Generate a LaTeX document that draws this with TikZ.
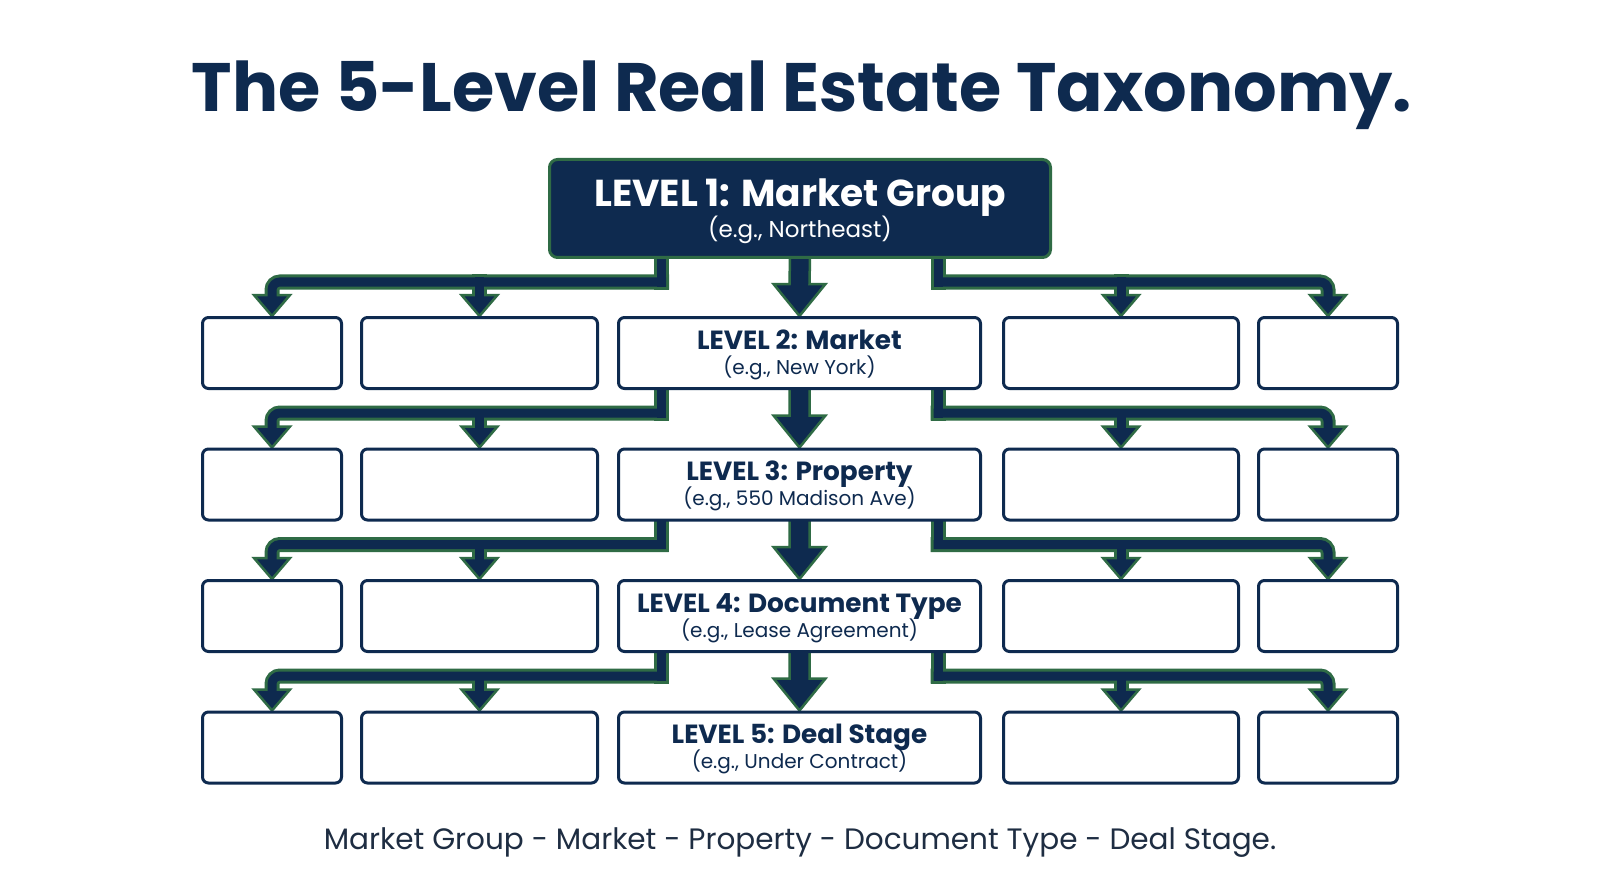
\documentclass[tikz,border=0pt]{standalone}
\usepackage{fontspec}
\setmainfont{Poppins}
\usetikzlibrary{calc}
\definecolor{navy}{HTML}{0E2A4F}
\definecolor{grn}{HTML}{2F6B45}
\definecolor{foot}{HTML}{1E2D42}
\pgfdeclarelayer{back}
\pgfdeclarelayer{conn}
\pgfsetlayers{back,conn,main}
\tikzset{
  lvbox/.style={draw=navy, line width=3pt, rounded corners=6pt, fill=white,
    minimum width=#1, minimum height=71pt, inner sep=0pt},
  topbox/.style={draw=grn, line width=3pt, rounded corners=8pt, fill=navy,
    minimum width=501pt, minimum height=98pt, inner sep=0pt},
  gline/.style={grn, line width=15pt, line cap=rect},
  nline/.style={navy, line width=9pt, line cap=rect},
  headst/.style={fill=navy, draw=grn, line width=2.5pt, line join=miter},
  ttl/.style={font=\fontsize{68.5}{76}\selectfont\bfseries, text=navy, inner sep=0pt, anchor=base},
  onet/.style={font=\fontsize{37.5}{40}\selectfont\bfseries, text=white, inner sep=0pt, anchor=base},
  ones/.style={font=\fontsize{23}{26}\selectfont, text=white, inner sep=0pt, anchor=base},
  lvt/.style={font=\fontsize{26.3}{30}\selectfont\bfseries, text=navy, inner sep=0pt, anchor=base},
  lvs/.style={font=\fontsize{20}{24}\selectfont, text=navy, inner sep=0pt, anchor=base},
  ftx/.style={font=\fontsize{29.5}{34}\selectfont, text=foot, inner sep=0pt, anchor=base}
}
\newcommand{\tierpaths}[1]{%
  \draw[#1] (sL) -- (sL|-bar);
  \draw[#1, rounded corners=8pt] (sL|-bar) -| (tA);
  \draw[#1] (bar -| tB) -- (tB);
  \draw[#1] (sR) -- (sR|-bar);
  \draw[#1, rounded corners=8pt] (sR|-bar) -| (tE);
  \draw[#1] (bar -| tD) -- (tD);
}
\newcommand{\tier}[6]{%
  \coordinate (sL) at ($(#1.south)+(-138.5,0)$);
  \coordinate (sR) at ($(#1.south)+(138.5,0)$);
  \coordinate (bar) at ($(#1.south)+(0,23)$);
  \coordinate (tA) at ($(#2.north)+(0,-18)$);
  \coordinate (tB) at ($(#3.north)+(0,-18)$);
  \coordinate (tD) at ($(#5.north)+(0,-18)$);
  \coordinate (tE) at ($(#6.north)+(0,-18)$);
  \tierpaths{gline}
  \foreach \t in {#2,#3,#5,#6} {
    \filldraw[headst] (\t.north) -- ++(-18,-21) -- ++(36,0) -- cycle;
  }
  \tierpaths{nline}
  \filldraw[headst] ($(#1.south)+(-10,-2)$) -- ($(#4.north)+(-10,-32)$) -- ($(#4.north)+(-26,-32)$)
    -- (#4.north) -- ($(#4.north)+(26,-32)$) -- ($(#4.north)+(10,-32)$) -- ($(#1.south)+(10,-2)$) -- cycle;
}
\begin{document}
\begin{tikzpicture}[x=1pt,y=-1pt]
\begin{pgfonlayer}{back}
\fill[white] (0,0) rectangle (1600,893);
\end{pgfonlayer}
\useasboundingbox (0,0) rectangle (1600,893);

\node[ttl] (title) at (802,112) {The 5-Level Real Estate Taxonomy.};

\node[topbox] (L1) at (800,208.5) {};
\node[onet] (L1t) at (800,207) {LEVEL 1: Market Group};
\node[ones] (L1s) at (800,238) {(e.g., Northeast)};

\foreach \r/\y in {2/353,3/484.5,4/616,5/747.5} {
  \node[lvbox=139pt] (r\r a) at (272,\y) {};
  \node[lvbox=236pt] (r\r b) at (479.5,\y) {};
  \node[lvbox=362pt] (r\r c) at (799.5,\y) {};
  \node[lvbox=235pt] (r\r d) at (1121,\y) {};
  \node[lvbox=139pt] (r\r e) at (1328,\y) {};
}

\node[lvt] (t2) at ($(r2c.center)+(0,-4)$) {LEVEL 2: Market};
\node[lvs] (s2) at ($(r2c.center)+(0,21)$) {(e.g., New York)};
\node[lvt] (t3) at ($(r3c.center)+(0,-4)$) {LEVEL 3: Property};
\node[lvs] (s3) at ($(r3c.center)+(0,21)$) {(e.g., 550 Madison Ave)};
\node[lvt] (t4) at ($(r4c.center)+(0,-4)$) {LEVEL 4: Document Type};
\node[lvs] (s4) at ($(r4c.center)+(0,21)$) {(e.g., Lease Agreement)};
\node[lvt] (t5) at ($(r5c.center)+(0,-4)$) {LEVEL 5: Deal Stage};
\node[lvs] (s5) at ($(r5c.center)+(0,21)$) {(e.g., Under Contract)};

\node[ftx] (foot) at (800,849) {Market Group - Market - Property - Document Type - Deal Stage.};

\begin{pgfonlayer}{conn}
\tier{L1}{r2a}{r2b}{r2c}{r2d}{r2e}
\tier{r2c}{r3a}{r3b}{r3c}{r3d}{r3e}
\tier{r3c}{r4a}{r4b}{r4c}{r4d}{r4e}
\tier{r4c}{r5a}{r5b}{r5c}{r5d}{r5e}
\end{pgfonlayer}
\end{tikzpicture}
\end{document}
